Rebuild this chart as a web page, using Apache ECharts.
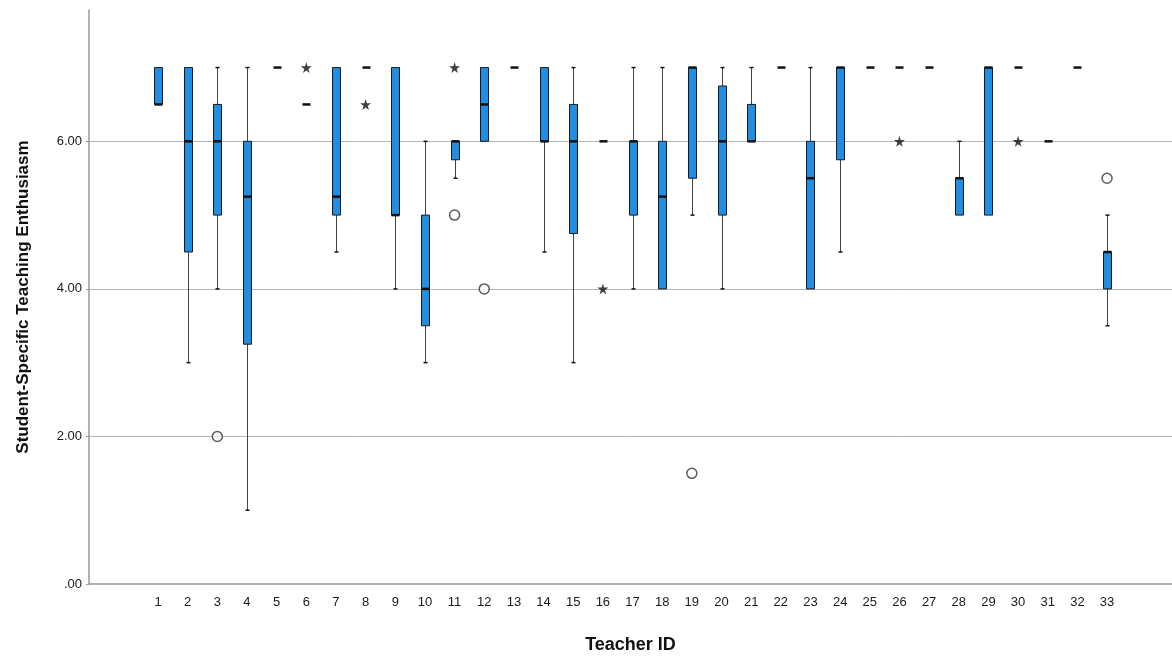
<!DOCTYPE html>
<html>
<head>
<meta charset="utf-8">
<title>Teaching Enthusiasm by Teacher</title>
<script src="https://cdn.jsdelivr.net/npm/echarts@6/dist/echarts.min.js"></script>
<style>
  html, body { margin: 0; padding: 0; background: #fff; }
  #chart { width: 1172px; height: 659px; }
</style>
</head>
<body>
<div id="chart"></div>
<script>
// teacher ids and five-number summaries
var teacherIds = [1, 2, 3, 4, 5, 6, 7, 8, 9, 10, 11, 12, 13, 14, 15, 16, 17, 18, 19, 20, 21, 22, 23, 24, 25, 26, 27, 28, 29, 30, 31, 32, 33]
var whiskerLow = [6.5, 3, 4, 1, 7, 6.5, 4.5, 7, 4, 3, 5.5, 6, 7, 4.5, 3, 6, 4, 4, 5, 4, 6, 7, 4, 4.5, 7, 7, 7, 5, 5, 7, 6, 7, 3.5]
var q1 = [6.5, 4.5, 5, 3.25, 7, 6.5, 5, 7, 5, 3.5, 5.75, 6, 7, 6, 4.75, 6, 5, 4, 5.5, 5, 6, 7, 4, 5.75, 7, 7, 7, 5, 5, 7, 6, 7, 4]
var medians = [6.5, 6, 6, 5.25, 7, 6.5, 5.25, 7, 5, 4, 6, 6.5, 7, 6, 6, 6, 6, 5.25, 7, 6, 6, 7, 5.5, 7, 7, 7, 7, 5.5, 7, 7, 6, 7, 4.5]
var q3 = [7, 7, 6.5, 6, 7, 6.5, 7, 7, 7, 5, 6, 7, 7, 7, 6.5, 6, 6, 6, 7, 6.75, 6.5, 7, 6, 7, 7, 7, 7, 5.5, 7, 7, 6, 7, 4.5]
var whiskerHigh = [7, 7, 7, 7, 7, 6.5, 7, 7, 7, 6, 6, 7, 7, 7, 7, 6, 7, 7, 7, 7, 7, 7, 7, 7, 7, 7, 7, 6, 7, 7, 6, 7, 5]

// outliers (circles) and extreme values (stars)
var outlierIds = [3, 11, 12, 19, 33]
var outlierVals = [2, 5, 4, 1.5, 5.5]
var extremeIds = [6, 8, 11, 16, 26, 30]
var extremeVals = [7, 6.5, 7, 4, 6, 6]

var yTicks = [0, 2, 4, 6]

var boxColor = '#1f8ee3'
var font = 'Liberation Sans, Arial, sans-serif'

var boxData = teacherIds.map(function (id, i) {
  return [id, whiskerLow[i], q1[i], medians[i], q3[i], whiskerHigh[i]]
})
var outlierData = outlierIds.map(function (id, i) { return [id, outlierVals[i]] })
var extremeData = extremeIds.map(function (id, i) { return [id, extremeVals[i]] })

function renderBox(params, api) {
  var x = api.value(0)
  var lo = api.coord([x, api.value(1)])
  var b1 = api.coord([x, api.value(2)])
  var md = api.coord([x, api.value(3)])
  var b3 = api.coord([x, api.value(4)])
  var hi = api.coord([x, api.value(5)])
  var cx = Math.round(lo[0]) + 0.5
  var half = 4
  var cap = 2
  var kids = []
  var wStyle = { stroke: '#444', lineWidth: 1 }
  var cStyle = { stroke: '#111', lineWidth: 1.5 }
  if (api.value(5) > api.value(4)) {
    kids.push({ type: 'line', shape: { x1: cx, y1: hi[1], x2: cx, y2: b3[1] }, style: wStyle })
    kids.push({ type: 'line', shape: { x1: cx - cap, y1: hi[1], x2: cx + cap, y2: hi[1] }, style: cStyle })
  }
  if (api.value(1) < api.value(2)) {
    kids.push({ type: 'line', shape: { x1: cx, y1: b1[1], x2: cx, y2: lo[1] }, style: wStyle })
    kids.push({ type: 'line', shape: { x1: cx - cap, y1: lo[1], x2: cx + cap, y2: lo[1] }, style: cStyle })
  }
  if (api.value(4) > api.value(2)) {
    kids.push({
      type: 'rect',
      shape: { x: cx - half, y: b3[1], width: half * 2, height: b1[1] - b3[1] },
      style: { fill: boxColor, stroke: '#1a1a1a', lineWidth: 1 }
    })
  }
  kids.push({ type: 'line', shape: { x1: cx - half, y1: md[1], x2: cx + half, y2: md[1] }, style: { stroke: '#111', lineWidth: 2.5 } })
  return { type: 'group', children: kids }
}

var chart = echarts.init(document.getElementById('chart'))
var option = {
  animation: false,
  backgroundColor: '#fff',
  grid: { left: 89, top: 10, right: 0, bottom: 74 },
  xAxis: {
    type: 'value',
    min: -1.327,
    max: 35.19,
    name: 'Teacher ID',
    nameLocation: 'middle',
    nameGap: 52,
    nameTextStyle: { fontFamily: font, fontSize: 18, fontWeight: 'bold', color: '#111' },
    axisLine: { show: true, onZero: false, lineStyle: { color: '#999', width: 1.5 } },
    axisTick: { show: false },
    splitLine: { show: false },
    axisLabel: { customValues: teacherIds, fontFamily: font, fontSize: 13, color: '#1a1a1a', margin: 12 }
  },
  yAxis: {
    type: 'value',
    min: 0,
    max: 7.78,
    interval: 2,
    name: 'Student-Specific Teaching Enthusiasm',
    nameLocation: 'middle',
    nameGap: 57,
    nameTextStyle: { fontFamily: font, fontSize: 17, fontWeight: 'bold', color: '#111' },
    axisLine: { show: true, onZero: false, lineStyle: { color: '#999', width: 1.5 } },
    axisTick: { show: true, length: 3, customValues: yTicks, lineStyle: { color: '#999' } },
    splitLine: { show: true, showMinLine: false, lineStyle: { color: '#b5b5b5', width: 1 } },
    axisLabel: {
      customValues: yTicks,
      fontFamily: font, fontSize: 13, color: '#1a1a1a', margin: 7,
      formatter: function (v) { return v === 0 ? '.00' : v.toFixed(2) }
    }
  },
  series: [
    {
      type: 'custom',
      renderItem: renderBox,
      data: boxData,
      encode: { x: 0, y: [1, 2, 3, 4, 5] },
      z: 3
    },
    {
      type: 'scatter',
      data: outlierData,
      symbol: 'circle',
      symbolSize: 10,
      itemStyle: { color: '#fff', borderColor: '#333', borderWidth: 1.5 },
      z: 4
    },
    {
      type: 'scatter',
      data: extremeData,
      symbol: 'path://M50,0 L61,35 L98,35 L68,57 L79,91 L50,70 L21,91 L32,57 L2,35 L39,35 Z',
      symbolSize: 11,
      itemStyle: { color: '#111' },
      z: 4
    }
  ]
}
chart.setOption(option)
</script>
</body>
</html>
